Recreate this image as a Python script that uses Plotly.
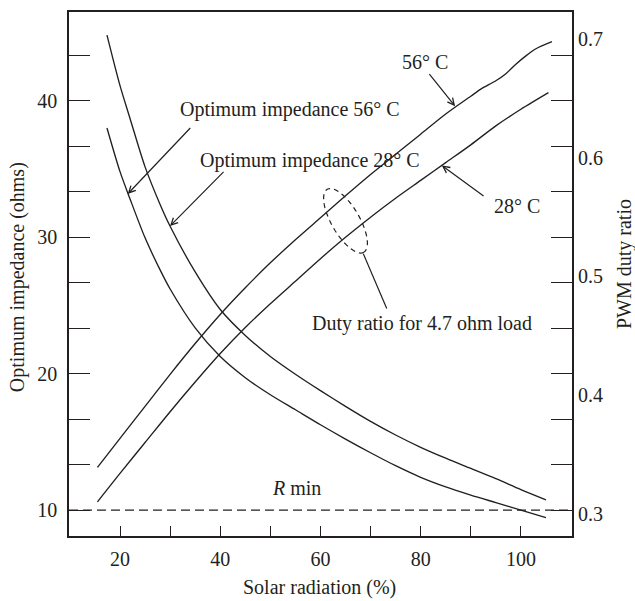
import math
import plotly.graph_objects as go

# ---------------- data ----------------
radiation_imp = [17.4, 20, 22, 25, 28, 30, 35, 40, 45, 50, 55, 60, 65, 70, 75, 80, 85, 90, 95, 100, 105]
z_opt_28 = [44.8, 41.1, 38.7, 35.15, 32.4, 30.8, 27.45, 24.7, 22.8, 21.25, 19.95, 18.75, 17.6, 16.5,
            15.5, 14.6, 13.8, 13.05, 12.3, 11.5, 10.75]
z_opt_56 = [38.0, 34.8, 32.8, 29.95, 27.6, 26.2, 23.35, 21.25, 19.7, 18.45, 17.35, 16.25, 15.2, 14.2,
            13.25, 12.4, 11.7, 11.1, 10.55, 10.0, 9.45]

radiation_duty_56 = [15.5, 20, 25, 30, 35, 40, 45, 50, 55, 60, 65, 70, 75, 80, 85, 90, 92, 95, 97, 99,
                     101, 103, 106.2]
duty_56 = [0.339, 0.3635, 0.3905, 0.4175, 0.4435, 0.468, 0.4905, 0.5115, 0.531, 0.5495, 0.568, 0.586,
           0.603, 0.620, 0.637, 0.652, 0.658, 0.665, 0.671, 0.679, 0.686, 0.692, 0.698]
radiation_duty_28 = [15.5, 20, 25, 30, 35, 40, 45, 50, 55, 60, 65, 70, 75, 80, 85, 90, 95, 100, 105.5]
duty_28 = [0.310, 0.334, 0.360, 0.386, 0.411, 0.435, 0.457, 0.477, 0.496, 0.515, 0.533, 0.550, 0.566,
           0.581, 0.596, 0.611, 0.627, 0.641, 0.655]

r_min = 10

x_tickvals = [20, 30, 40, 50, 60, 70, 80, 90, 100]
x_ticktext = ["20", "", "40", "", "60", "", "80", "", "100"]
y_tickvals = [10, 13.333, 16.667, 20, 23.333, 26.667, 30, 33.333, 36.667, 40, 43.333]
y_ticktext = ["10", "", "", "20", "", "", "30", "", "", "40", ""]
y2_tickvals = [0.3, 0.4, 0.5, 0.6, 0.7]
y2_ticktext = ["0.3", "0.4", "0.5", "0.6", "0.7"]

# ---------------- style ----------------
INK = "#231f20"
FONT = "Liberation Serif"
FS = 20
W, H = 635, 601
M = dict(l=69, r=63, t=10, b=65)
XR = [9.82, 110.2]
YR = [8.1, 46.5]
Y2R = [0.2812, 0.723]
LINE = dict(color=INK, width=1.35, shape="spline", smoothing=0.8)

fig = go.Figure()
fig.add_trace(go.Scatter(x=radiation_imp, y=z_opt_28, mode="lines", yaxis="y", line=LINE))
fig.add_trace(go.Scatter(x=radiation_imp, y=z_opt_56, mode="lines", yaxis="y", line=LINE))
fig.add_trace(go.Scatter(x=radiation_duty_56, y=duty_56, mode="lines", yaxis="y2", line=LINE))
fig.add_trace(go.Scatter(x=radiation_duty_28, y=duty_28, mode="lines", yaxis="y2", line=LINE))

shapes = []
# R min dashed line
shapes.append(dict(type="line", xref="paper", yref="y", x0=0, x1=1, y0=r_min, y1=r_min,
                   line=dict(color=INK, width=1.3, dash="9px,5px")))

# tilted dashed ellipse around the duty curves (size given in pixels)
pw = W - M["l"] - M["r"]
ph = H - M["t"] - M["b"]
sx = pw / (XR[1] - XR[0])
sy = ph / (YR[1] - YR[0])
ecx, ecy = 65.0, 31.2          # centre in data units (left axis)
ea, eb, eang = 36.5, 14, math.radians(60)
pts = []
for i in range(61):
    t = 2 * math.pi * i / 60
    dx = ea * math.cos(t) * math.cos(eang) - eb * math.sin(t) * math.sin(eang)
    dy = ea * math.cos(t) * math.sin(eang) + eb * math.sin(t) * math.cos(eang)
    pts.append((ecx + dx / sx, ecy - dy / sy))
path = "M " + " L ".join(f"{px:.3f},{py:.3f}" for px, py in pts) + " Z"
shapes.append(dict(type="path", xref="x", yref="y", path=path,
                   line=dict(color=INK, width=1.2, dash="5px,4px")))
# leader line from ellipse to label
shapes.append(dict(type="line", xref="x", yref="y", x0=68.56, y0=28.78, x1=73.23, y1=24.77,
                   line=dict(color=INK, width=1.2)))

ann = []
def text(x, y, s, xanchor="center"):
    ann.append(dict(x=x, y=y, xref="x", yref="y", text=s, showarrow=False,
                    xanchor=xanchor, yanchor="middle", font=dict(family=FONT, size=FS, color=INK)))

def arrow(tx, ty, hx, hy):
    ann.append(dict(x=hx, y=hy, ax=tx, ay=ty, xref="x", yref="y", axref="x", ayref="y",
                    text="", showarrow=True, arrowhead=5, arrowsize=1.1, arrowwidth=1.2,
                    arrowcolor=INK, standoff=0, startstandoff=0))

text(80.9, 42.8, "56° C")
arrow(81.5, 42.05, 86.87, 39.6)
text(99.2, 32.27, "28° C")
arrow(92.85, 32.94, 84.21, 35.26)
text(31.58, 39.33, "Optimum impedance 56° C", "left")
arrow(34.31, 38.11, 21.54, 33.17)
text(35.63, 35.63, "Optimum impedance 28° C", "left")
arrow(40.96, 34.89, 29.98, 30.82)
text(57.9, 23.66, "Duty ratio for 4.7 ohm load", "left")
text(55.3, 11.65, "<i>R</i> min")

# axis titles
ann.append(dict(x=-0.1034, y=0.494, xref="paper", yref="paper", text="Optimum impedance (ohms)",
                textangle=-90, showarrow=False, xanchor="center", yanchor="middle",
                font=dict(family=FONT, size=FS, color=INK)))
ann.append(dict(x=1.1034, y=0.519, xref="paper", yref="paper", text="PWM duty ratio",
                textangle=-90, showarrow=False, xanchor="center", yanchor="middle",
                font=dict(family=FONT, size=FS, color=INK)))
ann.append(dict(x=0.499, y=-0.099, xref="paper", yref="paper", text="Solar radiation (%)",
                showarrow=False, xanchor="center", yanchor="middle",
                font=dict(family=FONT, size=FS, color=INK)))

fig.update_layout(
    width=W, height=H, margin=dict(l=M["l"], r=M["r"], t=M["t"], b=M["b"], pad=0),
    paper_bgcolor="white", plot_bgcolor="white", showlegend=False,
    font=dict(family=FONT, size=FS, color=INK),
    shapes=shapes, annotations=ann,
    xaxis=dict(range=XR, tickvals=x_tickvals, ticktext=x_ticktext, ticks="inside", ticklen=10,
               tickwidth=1.3, tickcolor=INK, showline=True, linewidth=1.5, linecolor=INK,
               mirror=True, showgrid=False, zeroline=False, ticklabelstandoff=4,
               tickfont=dict(family=FONT, size=FS, color=INK)),
    yaxis=dict(range=YR, tickvals=y_tickvals, ticktext=y_ticktext, ticks="inside", ticklen=21,
               tickwidth=1.3, tickcolor=INK, showline=True, linewidth=1.5, linecolor=INK,
               mirror="ticks", showgrid=False, zeroline=False, ticklabelstandoff=6,
               tickfont=dict(family=FONT, size=FS, color=INK)),
    yaxis2=dict(range=Y2R, overlaying="y", side="right", tickvals=y2_tickvals, ticktext=y2_ticktext,
                ticks="", showline=False, showgrid=False, zeroline=False, ticklabelstandoff=5,
                tickfont=dict(family=FONT, size=FS, color=INK)),
)

fig.write_html("out.html")
